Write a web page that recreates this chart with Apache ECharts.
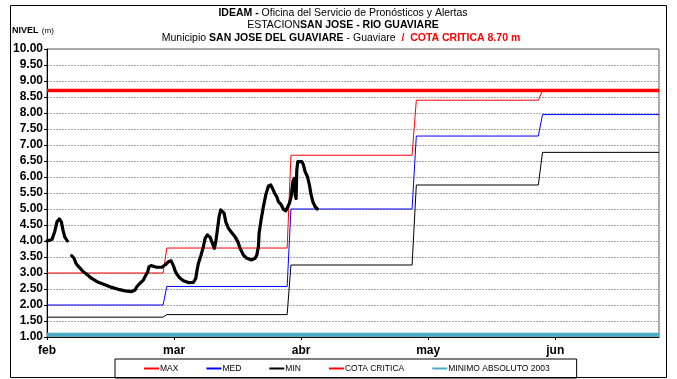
<!DOCTYPE html>
<html>
<head>
<meta charset="utf-8">
<script src="https://cdn.jsdelivr.net/npm/echarts@6/dist/echarts.min.js"></script>
<style>
  html, body { margin: 0; padding: 0; background: #fff; }
  #chart { width: 677px; height: 379px; }
</style>
</head>
<body>
<div id="chart"></div>
<script>
// Month ticks on a day scale (30 days per month slot)
const monthLabels = ['feb', 'mar', 'abr', 'may', 'jun'];
const monthDays = [0, 30, 60, 90, 120];
const xEnd = 144.5;

// Day where each seasonal step starts and ends
const stepFrom = [27.4, 56.7, 86.2, 116.0];
const stepTo = [28.3, 57.6, 87.2, 117.0];

// Historical levels per period (m)
const maxLevels = [3.00, 3.78, 6.68, 8.40, 8.70];
const medLevels = [2.00, 2.58, 5.00, 7.28, 7.95];
const minLevels = [1.62, 1.70, 3.25, 5.75, 6.77];

const cotaCritica = 8.70;
const minimoAbsoluto = 1.07;

// Observed level (m); null marks the missing days
const obsDays = [
  0, 1.18, 1.82, 2.36, 2.91, 3.38, 3.78, 4.18, 4.80,
  5.3,
  5.83, 6.38, 6.85, 7.25, 7.80, 8.57, 9.38, 10.56, 12.12, 13.70, 15.28, 16.84,
  18.43, 20.01, 20.79, 21.19, 21.97, 22.75, 23.15, 23.79, 24.09, 24.57, 24.87,
  25.91, 27.09, 27.47, 27.87, 28.65, 29.29, 29.60, 29.93, 30.24, 30.64, 31.18,
  32.20, 33.38, 34.56, 35.13, 35.36, 35.74, 36.31, 36.92, 37.32, 37.87, 38.50,
  39.05, 39.52, 39.85, 40.23, 40.63, 41.03, 41.50, 41.81, 42.21, 42.83, 43.63,
  44.41, 45.05, 45.59, 46.37, 47.17, 48.35, 49.13, 49.54, 49.91, 50.08, 50.55,
  51.09, 51.66, 52.28, 52.84, 53.22, 53.69, 54.26, 54.64, 55.28, 55.82, 56.39,
  56.86, 57.24, 57.64, 58.04, 58.35, 58.58, 58.82, 58.98, 59.22, 59.60, 60.16,
  60.54, 60.94, 61.49, 61.96, 62.29, 62.76, 63.31, 63.85
];
const obsLevels = [
  4.00, 4.05, 4.29, 4.60, 4.69, 4.60, 4.34, 4.13, 4.00,
  null,
  3.54, 3.46, 3.30, 3.23, 3.15, 3.04, 2.96, 2.83, 2.71, 2.63, 2.55, 2.49,
  2.44, 2.42, 2.47, 2.57, 2.68, 2.78, 2.88, 3.04, 3.20, 3.23, 3.17,
  3.18, 3.18, 3.15, 3.25, 3.35, 3.38, 3.30, 3.20, 3.07, 2.97, 2.87,
  2.76, 2.70, 2.71, 2.83, 3.04, 3.30, 3.53, 3.82, 4.08, 4.19, 4.12,
  3.93, 3.77, 3.98, 4.34, 4.76, 4.97, 4.99, 4.87, 4.60, 4.40, 4.26,
  4.13, 3.98, 3.77, 3.56, 3.46, 3.41, 3.46, 3.56, 3.82, 4.24, 4.66,
  5.07, 5.44, 5.72, 5.75, 5.65, 5.51, 5.38, 5.23, 5.13, 4.99, 4.94,
  4.97, 5.18, 5.38, 5.85, 5.96, 5.44, 5.33, 6.22, 6.48, 6.51, 6.48,
  6.38, 6.17, 6.01, 5.75, 5.49, 5.23, 5.07, 5.00
];

const FONT = '"Liberation Sans", Arial, sans-serif';

// Staircase built from the period levels and step days
function stepLine(levels) {
  const pts = [[0, levels[0]]];
  for (let i = 0; i < stepFrom.length; i++) {
    pts.push([stepFrom[i], levels[i]]);
    pts.push([stepTo[i], levels[i + 1]]);
  }
  pts.push([xEnd, levels[levels.length - 1]]);
  return pts;
}
function flatLine(v) { return [[0, v], [xEnd, v]]; }

const chart = echarts.init(document.getElementById('chart'), null, { renderer: 'canvas' });

chart.setOption({
  animation: false,
  backgroundColor: '#fff',
  textStyle: { fontFamily: FONT },
  grid: {
    left: 47, right: 18, top: 49, bottom: 42,
    show: true, borderColor: '#555', borderWidth: 1, backgroundColor: 'transparent'
  },
  xAxis: {
    type: 'value',
    min: 0, max: xEnd,
    axisLine: { show: true, onZero: false, lineStyle: { color: '#000', width: 1 } },
    axisTick: { show: true, length: 3, customValues: monthDays, lineStyle: { color: '#000' } },
    axisLabel: {
      customValues: monthDays,
      margin: 8,
      fontFamily: FONT, fontSize: 12, fontWeight: 'bold', color: '#000',
      formatter: v => monthLabels[monthDays.indexOf(v)] || ''
    },
    splitLine: { show: false }
  },
  yAxis: {
    type: 'value',
    min: 1, max: 10, interval: 0.5,
    axisLine: { show: true, lineStyle: { color: '#000', width: 1 } },
    axisTick: { show: true, length: 3, lineStyle: { color: '#000' } },
    axisLabel: {
      margin: 4,
      fontFamily: FONT, fontSize: 12, fontWeight: 'bold', color: '#000',
      formatter: v => v.toFixed(2)
    },
    splitLine: { show: true, lineStyle: { color: '#a8a8a8', width: 1, type: [2, 1] } }
  },
  legend: {
    data: ['MAX', 'MED', 'MIN', 'COTA CRITICA', 'MINIMO ABSOLUTO 2003'],
    left: 115, top: 359,
    padding: [5, 27, 5, 28],
    borderColor: '#000', borderWidth: 1,
    itemWidth: 15, itemHeight: 8, itemGap: 27,
    itemStyle: { opacity: 0 },
    textStyle: { fontFamily: FONT, fontSize: 8.5, color: '#000', padding: [0, 0, 0, -4] }
  },
  graphic: [
    {
      type: 'rect', silent: true, z: -10,
      shape: { x: 10.5, y: 5.5, width: 656, height: 372 },
      style: { fill: 'none', stroke: '#000', lineWidth: 1 }
    },
    {
      type: 'text', left: 12, top: 25,
      style: {
        text: '{b|NIVEL} {n|(m)}',
        rich: {
          b: { fontFamily: FONT, fontSize: 9, fontWeight: 'bold', fill: '#000' },
          n: { fontFamily: FONT, fontSize: 8, fill: '#000' }
        }
      }
    },
    {
      type: 'text', x: 343, y: 13,
      style: {
        text: '{b|IDEAM -} Oficina del Servicio de Pronósticos y Alertas',
        align: 'center', verticalAlign: 'middle',
        fontFamily: FONT, fontSize: 10.5, fill: '#000',
        rich: { b: { fontFamily: FONT, fontSize: 10.5, fontWeight: 'bold', fill: '#000' } }
      }
    },
    {
      type: 'text', x: 343, y: 25,
      style: {
        text: 'ESTACION{b|SAN JOSE - RIO GUAVIARE}',
        align: 'center', verticalAlign: 'middle',
        fontFamily: FONT, fontSize: 10.5, fill: '#000',
        rich: { b: { fontFamily: FONT, fontSize: 10.5, fontWeight: 'bold', fill: '#000' } }
      }
    },
    {
      type: 'text', x: 341, y: 38,
      style: {
        text: 'Municipio {b|SAN JOSE DEL GUAVIARE} - Guaviare  {r|/  COTA CRITICA 8.70 m}',
        align: 'center', verticalAlign: 'middle',
        fontFamily: FONT, fontSize: 10.5, fill: '#000',
        rich: {
          b: { fontFamily: FONT, fontSize: 10.5, fontWeight: 'bold', fill: '#000' },
          r: { fontFamily: FONT, fontSize: 10.5, fontWeight: 'bold', fill: '#ff0000' }
        }
      }
    }
  ],
  series: [
    {
      name: 'MINIMO ABSOLUTO 2003', type: 'line', symbol: 'none', z: 2,
      data: flatLine(minimoAbsoluto),
      lineStyle: { color: '#4bacc6', width: 4 }, itemStyle: { color: '#4bacc6' }
    },
    {
      name: 'MAX', type: 'line', symbol: 'none', z: 3,
      data: stepLine(maxLevels),
      lineStyle: { color: '#ff0000', width: 1 }, itemStyle: { color: '#ff0000' }
    },
    {
      name: 'MED', type: 'line', symbol: 'none', z: 3,
      data: stepLine(medLevels),
      lineStyle: { color: '#0000ff', width: 1 }, itemStyle: { color: '#0000ff' }
    },
    {
      name: 'MIN', type: 'line', symbol: 'none', z: 3,
      data: stepLine(minLevels),
      lineStyle: { color: '#000000', width: 1 }, itemStyle: { color: '#000000' }
    },
    {
      name: 'COTA CRITICA', type: 'line', symbol: 'none', z: 4,
      data: flatLine(cotaCritica),
      lineStyle: { color: '#ff0000', width: 3.5 }, itemStyle: { color: '#ff0000' }
    },
    {
      name: 'NIVEL', type: 'line', symbol: 'none', z: 5,
      data: obsDays.map((d, i) => [d, obsLevels[i]]),
      connectNulls: false,
      lineStyle: { color: '#000', width: 3.2, cap: 'round', join: 'round' },
      itemStyle: { color: '#000' }
    }
  ]
});
</script>
</body>
</html>
